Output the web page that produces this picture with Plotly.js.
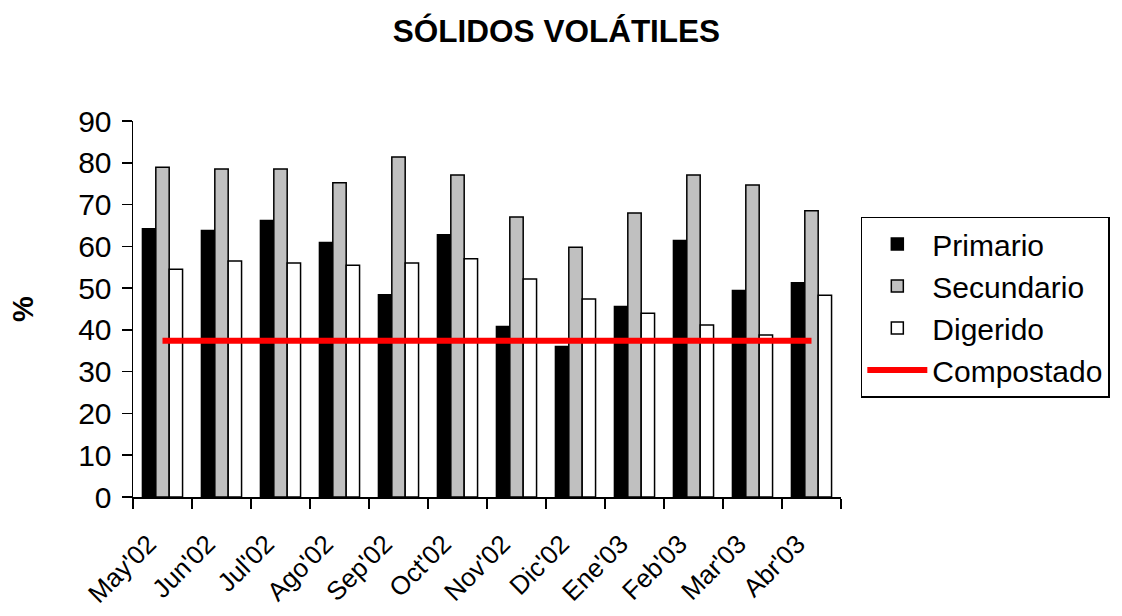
<!DOCTYPE html>
<html>
<head>
<meta charset="utf-8">
<script src="https://cdn.plot.ly/plotly-3.0.1.min.js"></script>
<style>html,body{margin:0;padding:0;background:#fff;}#chart{width:1122px;height:616px;}</style>
</head>
<body>
<div id="chart"></div>
<script>
const months = ["May'02","Jun'02","Jul'02","Ago'02","Sep'02","Oct'02","Nov'02","Dic'02","Ene'03","Feb'03","Mar'03","Abr'03"];
const primario = [64.2, 63.8, 66.2, 60.9, 48.4, 62.8, 40.8, 36.0, 45.6, 61.4, 49.4, 51.3];
const secundario = [78.9, 78.5, 78.5, 75.2, 81.4, 77.1, 67.0, 59.8, 68.0, 77.1, 74.7, 68.5];
const digerido = [54.5, 56.5, 56.0, 55.5, 56.0, 57.0, 52.2, 47.4, 44.0, 41.2, 38.8, 48.3];
const compostado = [37.4, 37.4, 37.4, 37.4, 37.4, 37.4, 37.4, 37.4, 37.4, 37.4, 37.4, 37.4];

const FONT = "Liberation Sans, Arial, sans-serif";
const barLine = {color: "#000000", width: 1.5};

const traces = [
  {type: "bar", name: "Primario", x: months, y: primario, marker: {color: "#000000", line: barLine}, legendgroup: "a"},
  {type: "bar", name: "Secundario", x: months, y: secundario, marker: {color: "#C0C0C0", line: barLine}, legendgroup: "b"},
  {type: "bar", name: "Digerido", x: months, y: digerido, marker: {color: "#FFFFFF", line: barLine}, legendgroup: "c"},
  {type: "scatter", mode: "lines", name: "Compostado", x: months, y: compostado, line: {color: "#FF0000", width: 6}, legendgroup: "d"}
];

const layout = {
  width: 1122, height: 616,
  paper_bgcolor: "#ffffff", plot_bgcolor: "#ffffff",
  font: {family: FONT, color: "#000000", size: 30},
  margin: {l: 133, r: 279, t: 121, b: 119},
  title: {text: "<b>SÓLIDOS VOLÁTILES</b>", font: {family: FONT, size: 31.5, color: "#000"}, x: 0.496, xref: "container", xanchor: "center", y: 0.95, yref: "container", yanchor: "middle"},
  barmode: "group",
  bargap: 0.32,
  bargroupgap: 0,
  showlegend: true,
  legend: {
    x: 1.028, xanchor: "left", y: 0.746, yanchor: "top",
    bordercolor: "#000", borderwidth: 1.5, bgcolor: "#fff",
    font: {family: FONT, size: 30, color: "#000"},
    traceorder: "grouped", tracegroupgap: 0, itemwidth: 60
  },
  xaxis: {
    type: "category",
    showline: true, linecolor: "#000", linewidth: 1.5,
    ticks: "outside", ticklen: 10, tickwidth: 1.5, tickcolor: "#000",
    tickson: "boundaries",
    tickangle: -45,
    ticklabelstandoff: 20,
    ticklabelshift: -14,
    tickfont: {family: FONT, size: 26, color: "#000"},
    showgrid: false, zeroline: false
  },
  yaxis: {
    range: [0, 90], dtick: 10, tick0: 0,
    showline: true, linecolor: "#000", linewidth: 1.5,
    ticks: "outside", ticklen: 10, tickwidth: 1.5, tickcolor: "#000",
    tickfont: {family: FONT, size: 30, color: "#000"},
    ticklabelstandoff: 4,
    showgrid: false, zeroline: false,
    title: {text: "<b>%</b>", font: {family: FONT, size: 29, color: "#000"}, standoff: 36}
  }
};

Plotly.newPlot("chart", traces, layout, {displayModeBar: false, staticPlot: true});
</script>
</body>
</html>
